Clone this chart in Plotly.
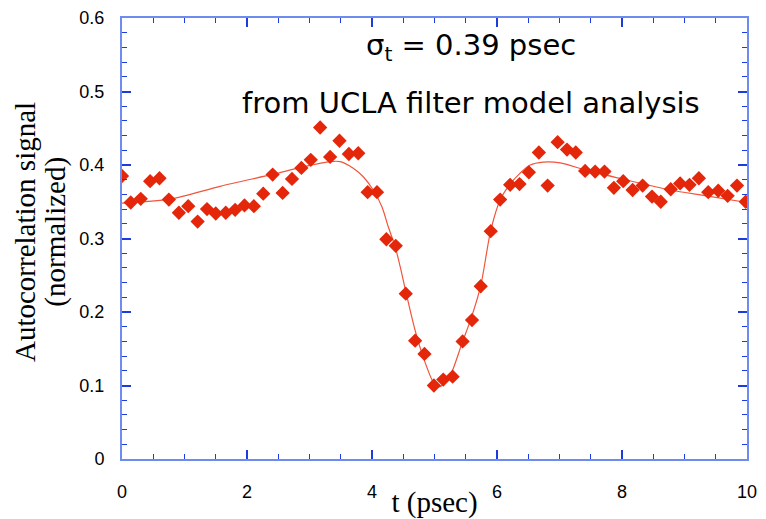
import plotly.graph_objects as go

# measured data points
t_data = [0.00, 0.14, 0.30, 0.45, 0.60, 0.75, 0.91, 1.06, 1.21, 1.36, 1.50, 1.66, 1.81, 1.96,
          2.11, 2.26, 2.41, 2.57, 2.72, 2.87, 3.02, 3.17, 3.33, 3.48, 3.63, 3.78, 3.93, 4.08,
          4.23, 4.38, 4.54, 4.69, 4.84, 4.99, 5.14, 5.29, 5.45, 5.60, 5.74, 5.90, 6.05, 6.21,
          6.36, 6.51, 6.67, 6.81, 6.97, 7.12, 7.26, 7.41, 7.57, 7.72, 7.87, 8.02, 8.17, 8.33,
          8.48, 8.62, 8.78, 8.93, 9.08, 9.23, 9.38, 9.54, 9.69, 9.84, 9.98]
signal = [0.385, 0.349, 0.354, 0.378, 0.382, 0.353, 0.335, 0.344, 0.323, 0.340, 0.334, 0.335,
          0.339, 0.345, 0.344, 0.361, 0.387, 0.362, 0.381, 0.396, 0.407, 0.451, 0.411, 0.433,
          0.415, 0.416, 0.363, 0.363, 0.299, 0.290, 0.225, 0.161, 0.143, 0.100, 0.108, 0.112,
          0.160, 0.189, 0.235, 0.310, 0.353, 0.373, 0.374, 0.390, 0.417, 0.372, 0.431, 0.421,
          0.417, 0.392, 0.391, 0.391, 0.369, 0.378, 0.366, 0.372, 0.357, 0.350, 0.367, 0.375,
          0.373, 0.382, 0.363, 0.365, 0.358, 0.372, 0.350]

# model fit curve
t_fit = [0.0, 0.77, 1.57, 2.42, 2.88, 3.33, 3.49, 3.70, 3.86, 4.02, 4.16, 4.26, 4.37, 4.45,
         4.54, 4.69, 4.83, 4.98, 5.06, 5.14, 5.25, 5.45, 5.58, 5.74, 5.90, 6.05, 6.20, 6.37,
         6.53, 6.74, 7.01, 7.41, 8.02, 8.77, 9.35, 10.0]
v_fit = [0.348, 0.3535, 0.371, 0.3875, 0.397, 0.4046, 0.4046, 0.3956, 0.384, 0.366, 0.343,
         0.316, 0.289, 0.262, 0.228, 0.175, 0.136, 0.1045, 0.098, 0.101, 0.113, 0.160, 0.190,
         0.236, 0.311, 0.3525, 0.373, 0.389, 0.400, 0.404, 0.403, 0.3933, 0.3807, 0.366,
         0.358, 0.349]

x_ticks = [0, 2, 4, 6, 8, 10]
y_ticks = [0, 0.1, 0.2, 0.3, 0.4, 0.5, 0.6]
y_tick_text = ["0", "0.1", "0.2", "0.3", "0.4", "0.5", "0.6"]
y_title_lines = ["Autocorrelation signal", "(normalized)"]

SERIF = "Liberation Serif, Times New Roman, serif"

fig = go.Figure()
fig.add_trace(go.Scatter(
    x=t_fit, y=v_fit, mode="lines",
    line=dict(color="rgb(240,85,60)", width=1.2, shape="spline", smoothing=0.8),
    hoverinfo="skip", showlegend=False))
fig.add_trace(go.Scatter(
    x=t_data, y=signal, mode="markers",
    marker=dict(symbol="diamond", size=11, color="rgb(228,38,10)",
                line=dict(width=0)),
    showlegend=False))

axis_common = dict(
    showline=True, linecolor="rgb(110,140,240)", linewidth=2, mirror="allticks",
    ticks="inside", tickcolor="rgb(30,60,220)", tickwidth=1.5, ticklen=9,
    showgrid=False, zeroline=False, automargin=False,
    tickfont=dict(family="Liberation Sans, Arial, sans-serif", size=18, color="black"),
)

fig.update_xaxes(
    range=[0, 10], tickvals=x_ticks, ticktext=[str(v) for v in x_ticks],
    minor=dict(dtick=0.5, ticks="inside", ticklen=5, tickcolor="rgb(30,60,220)", tickwidth=1.2),
    ticklabelstandoff=15,
    title=dict(text="t (psec)", font=dict(family=SERIF, size=29, color="black"), standoff=0),
    **axis_common)
fig.update_yaxes(
    range=[0, 0.6], tickvals=y_ticks, ticktext=y_tick_text,
    minor=dict(dtick=0.02, ticks="inside", ticklen=5, tickcolor="rgb(30,60,220)", tickwidth=1.2),
    ticklabelstandoff=12,
    **axis_common)

# two-line y-axis title with tight line spacing
for txt, xp in zip(y_title_lines, [-0.155, -0.106]):
    fig.add_annotation(x=xp, y=0.515, xref="paper", yref="paper", showarrow=False,
                       text=txt, textangle=-90, xanchor="center", yanchor="middle",
                       borderpad=0,
                       font=dict(family=SERIF, size=29, color="black"))

fig.add_annotation(x=0.558, y=0.934, xref="paper", yref="paper", showarrow=False,
                   xanchor="center", yanchor="middle",
                   text="σ<sub>t</sub> = 0.39 psec",
                   font=dict(family="DejaVu Sans, sans-serif", size=29, color="black"))
fig.add_annotation(x=0.558, y=0.807, xref="paper", yref="paper", showarrow=False,
                   xanchor="center", yanchor="middle",
                   text="from UCLA filter model analysis",
                   font=dict(family="DejaVu Sans, sans-serif", size=29, color="black"))

# page body has an 8px default margin, so the figure is sized to fit the window
fig.update_layout(
    width=758, height=511,
    margin=dict(l=114, r=19, t=10, b=60),
    plot_bgcolor="white", paper_bgcolor="white",
)

fig.write_html("out.html")
